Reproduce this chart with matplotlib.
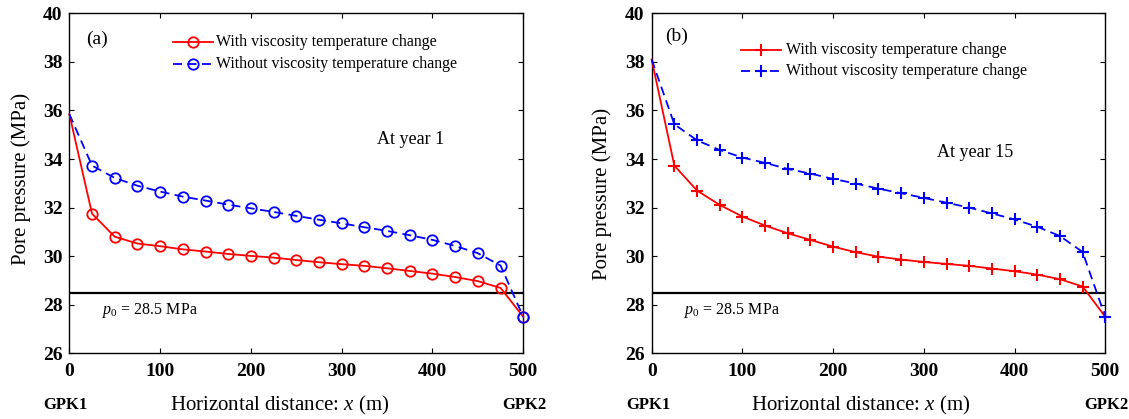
import matplotlib
matplotlib.use("Agg")
import matplotlib.pyplot as plt

plt.rcParams["font.family"] = ["Liberation Serif", "DejaVu Serif"]
plt.rcParams["mathtext.fontset"] = "custom"
plt.rcParams["mathtext.rm"] = "Liberation Serif"
plt.rcParams["mathtext.it"] = "Liberation Serif:italic"

# Distance between the wells (m)
x = [0, 25, 50, 75, 100, 125, 150, 175, 200, 225, 250,
     275, 300, 325, 350, 375, 400, 425, 450, 475, 500]

# (a) pore pressure at year 1 (MPa)
p1_with = [35.85, 31.75, 30.80, 30.52, 30.41, 30.28, 30.19, 30.09, 30.01, 29.94, 29.84,
           29.75, 29.67, 29.60, 29.50, 29.39, 29.28, 29.14, 28.97, 28.69, 27.5]
p1_without = [35.85, 33.73, 33.22, 32.90, 32.66, 32.45, 32.29, 32.12, 31.97, 31.82, 31.66,
              31.50, 31.35, 31.19, 31.04, 30.86, 30.67, 30.42, 30.12, 29.61, 27.5]

# (b) pore pressure at year 15 (MPa)
p15_with = [38.1, 33.73, 32.70, 32.11, 31.63, 31.26, 30.94, 30.67, 30.39, 30.16, 29.98,
            29.86, 29.76, 29.68, 29.60, 29.49, 29.38, 29.24, 29.05, 28.75, 27.5]
p15_without = [38.1, 35.43, 34.77, 34.37, 34.06, 33.84, 33.59, 33.40, 33.18, 32.99, 32.78,
               32.59, 32.40, 32.20, 32.00, 31.76, 31.51, 31.21, 30.83, 30.17, 27.5]

p0 = 28.5
xticks = [0, 100, 200, 300, 400, 500]
yticks = [26, 28, 30, 32, 34, 36, 38, 40]
legend_labels = ["With viscosity temperature change",
                 "Without viscosity temperature change"]

fig = plt.figure(figsize=(11.29, 4.19), dpi=100)
ax_a = fig.add_axes([0.0614, 0.1568, 0.4021, 0.8115])
ax_b = fig.add_axes([0.5772, 0.1568, 0.4018, 0.8115])

panels = [
    (ax_a, p1_with, p1_without, "o", "(a)", "At year 1", (339, 34.81),
     (19, 38.94), (114, 158, 162, 38.81, 37.91), (-0.085, 0.514), 0.464),
    (ax_b, p15_with, p15_without, "+", "(b)", "At year 15", (315, 34.28),
     (15, 39.04), (99, 143, 148, 38.49, 37.63), (-0.087, 0.470), 0.461),
]

for ax, pw, pwo, mk, tag, year, year_xy, tag_xy, leg, ylab_xy, xlab_x in panels:
    if mk == "o":
        mstyle = dict(marker="o", markersize=7.5, markerfacecolor="none", markeredgewidth=1.3)
    else:
        mstyle = dict(marker="+", markersize=9, markeredgewidth=1.5)

    ax.axhline(p0, color="black", linewidth=1.6, zorder=2)
    ax.plot(x, pw, color="#ff0000", linewidth=1.3, markevery=slice(1, None),
            markeredgecolor="#ff0000", clip_on=False, zorder=3, **mstyle)
    ax.plot(x, pwo, color="#0000ff", linewidth=1.3, linestyle=(0, (5, 3)),
            markevery=slice(1, None), markeredgecolor="#0000ff", clip_on=False,
            zorder=4, **mstyle)

    # legend drawn in data coordinates
    lx0, lx1, tx, ly1, ly2 = leg
    ax.plot([lx0, lx1], [ly1, ly1], color="#ff0000", linewidth=1.3, zorder=5)
    ax.plot([(lx0 + lx1) / 2], [ly1], color="#ff0000", markeredgecolor="#ff0000",
            linestyle="none", zorder=5, **mstyle)
    ax.plot([lx0, lx1], [ly2, ly2], color="#0000ff", linewidth=1.3,
            linestyle=(0, (5, 3)), zorder=5)
    ax.plot([(lx0 + lx1) / 2], [ly2], color="#0000ff", markeredgecolor="#0000ff",
            linestyle="none", zorder=5, **mstyle)
    ax.text(tx, ly1, legend_labels[0], fontsize=11.4, va="center", ha="left")
    ax.text(tx, ly2, legend_labels[1], fontsize=11.4, va="center", ha="left")

    ax.text(tag_xy[0], tag_xy[1], tag, fontsize=14, va="center", ha="left")
    ax.text(year_xy[0], year_xy[1], year, fontsize=13, va="center", ha="left")
    ax.text(35.7, 27.78, r"$p_{\mathit{0}}$ = 28.5 MPa", fontsize=11.5,
            va="center", ha="left")

    ax.set_xlim(0, 500)
    ax.set_ylim(26, 40)
    ax.set_xticks(xticks)
    ax.set_yticks(yticks)
    ax.set_xticklabels([str(v) for v in xticks], fontweight="bold", fontsize=14)
    ax.set_yticklabels([str(v) for v in yticks], fontweight="bold", fontsize=14)
    ax.tick_params(direction="in", length=3.5, width=0.8, top=True, right=True)
    ax.tick_params(axis="x", pad=7)
    ax.tick_params(axis="y", pad=5)
    for s in ax.spines.values():
        s.set_linewidth(1.0)

    ax.text(xlab_x, -0.153, r"Horizontal distance: $x$ (m)", transform=ax.transAxes,
            fontsize=15, ha="center", va="center")
    ax.text(-0.008, -0.153, "GPK1", transform=ax.transAxes, fontsize=12,
            fontweight="bold", ha="center", va="center")
    ax.text(1.003, -0.153, "GPK2", transform=ax.transAxes, fontsize=12,
            fontweight="bold", ha="center", va="center")
    ax.set_ylabel("Pore pressure (MPa)", fontsize=15)
    ax.yaxis.set_label_coords(*ylab_xy)

fig.savefig("out.png", dpi=100)
